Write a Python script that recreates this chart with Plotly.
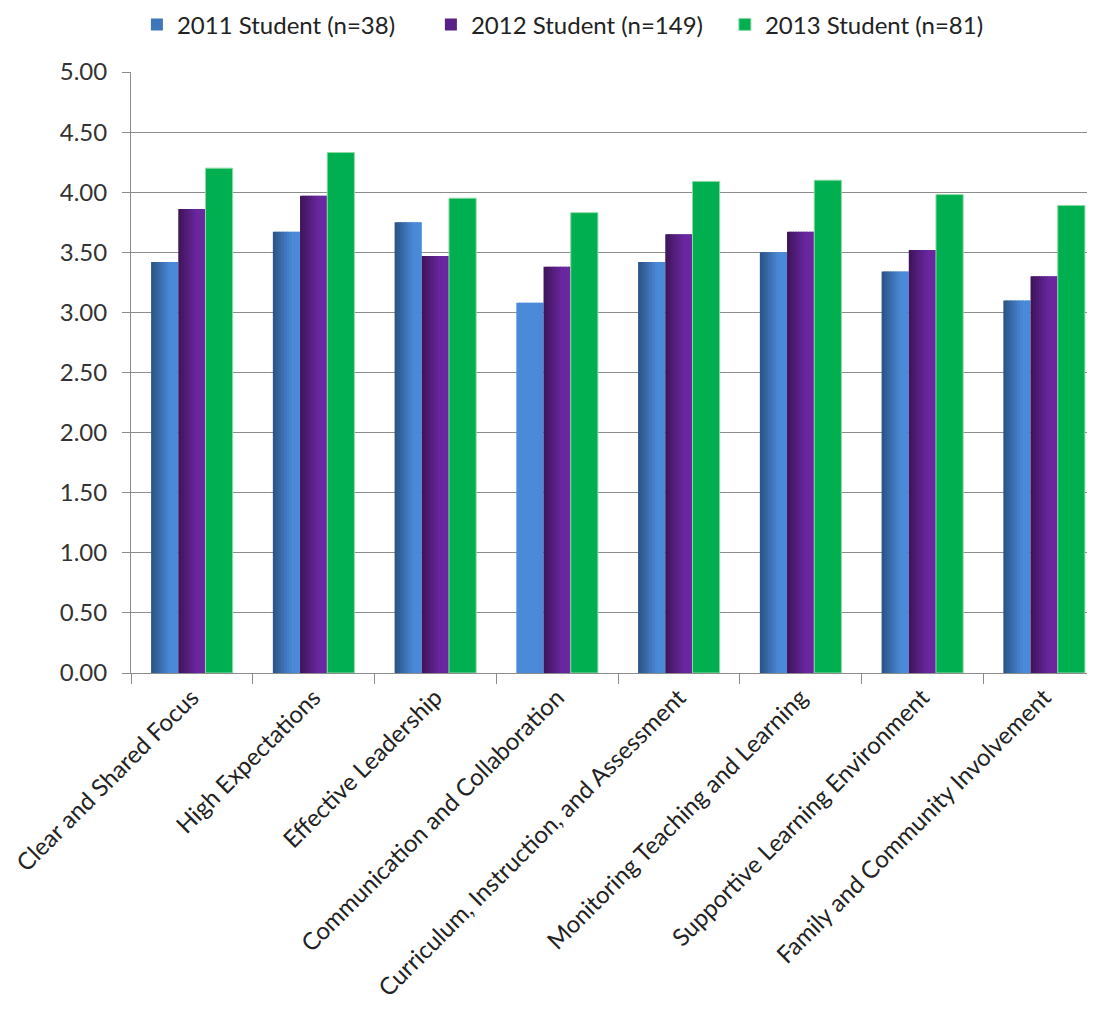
import plotly.graph_objects as go

categories = [
    "Clear and Shared Focus",
    "High Expectations",
    "Effective Leadership",
    "Communication and Collaboration",
    "Curriculum, Instruction, and Assessment",
    "Monitoring Teaching and Learning",
    "Supportive Learning Environment",
    "Family and Community Involvement",
]
series_names = ["2011 Student (n=38)", "2012 Student (n=149)", "2013 Student (n=81)"]
values_2011 = [3.42, 3.67, 3.75, 3.08, 3.42, 3.50, 3.34, 3.10]
values_2012 = [3.86, 3.97, 3.47, 3.38, 3.65, 3.67, 3.52, 3.30]
values_2013 = [4.20, 4.33, 3.95, 3.83, 4.09, 4.10, 3.98, 3.89]
y_ticks = [0, 0.5, 1.0, 1.5, 2.0, 2.5, 3.0, 3.5, 4.0, 4.5, 5.0]

# (dark edge, light face) per series for the horizontal bar shading
shades = [("#2a5283", "#4a8ad8"), ("#3e1459", "#6a27a0"), ("#00b050", "#00b050")]
flat_blue = "#4a8ad8"          # the one unshaded 2011 bar (Communication)
all_values = [values_2011, values_2012, values_2013]


def mix(c1, c2, t):
    a = [int(c1[i:i + 2], 16) for i in (1, 3, 5)]
    b = [int(c2[i:i + 2], 16) for i in (1, 3, 5)]
    return "#%02x%02x%02x" % tuple(round(a[i] + (b[i] - a[i]) * t) for i in range(3))


BARGAP = 0.33
GROUP = 1 - BARGAP
BW = GROUP / len(all_values)
NSLICE = 10

fig = go.Figure()
for s, (name, vals, (dark, light)) in enumerate(zip(series_names, all_values, shades)):
    start = -GROUP / 2 + s * BW
    if dark == light:
        fig.add_trace(go.Bar(
            x=categories, y=vals, name=name, legendgroup=name,
            offset=start, width=BW,
            marker=dict(color=light, line=dict(width=1, color="#8fd9a6")),
        ))
        continue
    for k in range(NSLICE):
        t = min(1.0, (k + 0.5) / NSLICE / 0.7)
        col = mix(dark, light, t)
        cols = [col] * len(vals)
        if s == 0:
            cols[3] = flat_blue
        last = k == NSLICE - 1
        w = BW / NSLICE * (1.0 if last else 1.6)
        fig.add_trace(go.Bar(
            x=categories, y=vals, name=name, legendgroup=name,
            showlegend=(k == 4),
            offset=start + k * BW / NSLICE, width=w,
            marker=dict(color=cols, line=dict(width=0)),
        ))

font_family = "Lato, 'Open Sans', sans-serif"
fig.update_layout(
    width=1097, height=1007,
    paper_bgcolor="white", plot_bgcolor="white",
    barmode="overlay",
    margin=dict(l=123, r=0, t=64, b=342, autoexpand=False),
    font=dict(family=font_family, size=20, color="#333333"),
    showlegend=True,
    legend=dict(
        orientation="h", xref="container", yref="paper",
        x=0.1175, xanchor="left", y=1.116, yanchor="top",
        font=dict(size=24, color="#222222"),
        itemwidth=30, entrywidth=249, traceorder="normal",
        bgcolor="rgba(0,0,0,0)",
    ),
)
fig.update_yaxes(
    range=[0, 5], tickvals=y_ticks, tickformat=".2f",
    showgrid=True, gridcolor="#8c8c8c", gridwidth=1,
    showline=True, linecolor="#8c8c8c", linewidth=1,
    ticks="outside", ticklen=8, tickcolor="#8c8c8c",
    ticklabelstandoff=10,
    tickfont=dict(size=24, color="#333333"),
    zeroline=False,
)
fig.update_xaxes(
    tickangle=-45, tickson="boundaries",
    showline=True, linecolor="#8c8c8c", linewidth=1,
    ticks="outside", ticklen=10, tickcolor="#8c8c8c",
    tickfont=dict(size=24, color="#222222"),
)

fig.write_html("out.html")
